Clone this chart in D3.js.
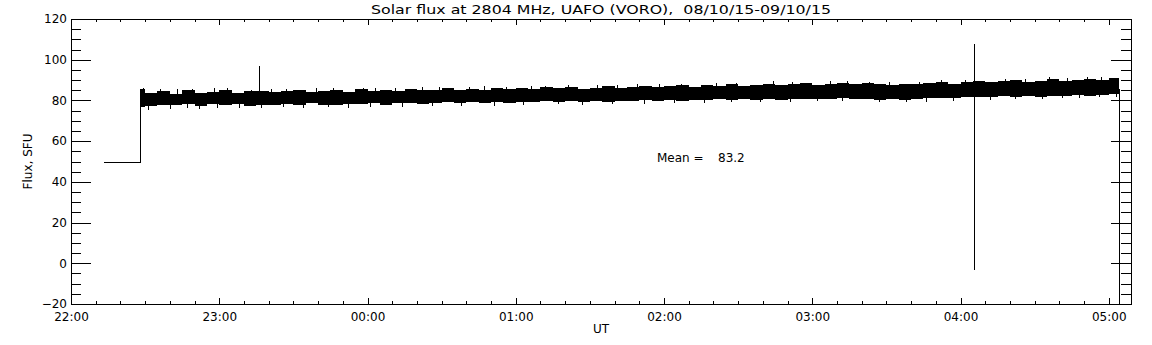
<!DOCTYPE html>
<html>
<head>
<meta charset="utf-8">
<script src="https://cdn.jsdelivr.net/npm/d3@7"></script>
<style>
  body { margin: 0; background: #fff; }
  svg { display: block; }
  text { font-family: "DejaVu Sans", sans-serif; font-size: 12px; fill: #000; white-space: pre; }
</style>
</head>
<body>
<svg id="chart" width="1152" height="345"></svg>
<script>
// ---- data ----
const titleText = "Solar flux at 2804 MHz, UAFO (VORO),  08/10/15-09/10/15";
const meanValue = 83.2;

// dense noise band: solid envelope, sampled every 5 min
const bandTimes = ["22:28","22:30","22:35","22:40","22:45","22:50","22:55","23:00","23:05","23:10","23:15","23:20","23:25","23:30","23:35","23:40","23:45","23:50","23:55",
  "00:00","00:05","00:10","00:15","00:20","00:25","00:30","00:35","00:40","00:45","00:50","00:55",
  "01:00","01:05","01:10","01:15","01:20","01:25","01:30","01:35","01:40","01:45","01:50","01:55",
  "02:00","02:05","02:10","02:15","02:20","02:25","02:30","02:35","02:40","02:45","02:50","02:55",
  "03:00","03:05","03:10","03:15","03:20","03:25","03:30","03:35","03:40","03:45","03:50","03:55",
  "04:00","04:05","04:10","04:15","04:20","04:25","04:30","04:35","04:40","04:45","04:50","04:55","05:00","05:04"];
const bandUpper = [85.5,83.8,84.6,83.4,84.9,83.7,84.2,85.1,83.6,84.4,84.8,83.9,84.6,85.3,84.1,84.7,85.0,84.2,85.4,
  84.6,85.1,84.4,85.6,84.9,85.3,86.0,85.1,85.7,85.2,86.3,85.5,
  86.1,85.4,86.4,85.9,86.6,85.8,86.2,86.9,86.1,86.7,87.3,86.5,
  86.9,87.6,86.8,87.4,87.0,87.9,87.2,87.7,88.3,87.5,87.9,88.4,
  87.6,88.2,88.7,87.9,88.4,88.0,87.6,88.3,88.0,88.6,88.9,88.3,
  89.1,89.6,88.9,89.4,89.9,89.2,89.7,90.3,89.6,90.1,90.6,90.0,90.8,90.4];
const bandLower = [77.0,77.2,78.0,77.6,78.2,77.4,78.1,77.8,78.4,77.5,78.0,77.7,78.3,77.9,78.5,78.0,77.6,78.3,78.1,
  78.6,78.0,78.5,78.9,78.3,78.7,79.1,78.6,79.0,78.5,79.2,78.8,
  79.3,79.0,79.5,79.1,79.6,79.2,79.7,79.4,79.9,79.5,80.0,79.6,
  80.1,79.8,80.3,80.0,80.5,80.1,80.6,80.3,80.8,80.4,80.9,80.5,
  80.9,80.6,81.0,80.7,80.5,80.3,80.6,80.4,80.8,81.0,81.3,81.0,
  81.5,81.8,81.5,82.0,81.7,82.2,81.9,82.4,82.1,82.6,82.3,82.9,83.2,83.0];

// single outlying samples sticking out of the band
const spikeTimes = ["22:29","22:43","22:58","23:21","23:39","23:58","00:22","00:47","01:12","01:33","01:58","02:21","02:44","03:07","03:31","03:52","04:18","04:36","04:51","05:02",
  "22:36","22:49","23:03","23:13","23:27","23:46","00:03","00:11","00:29","00:41","00:56","01:06","01:21","01:41","01:49","02:07","02:29","02:52","03:14","03:23","03:43","04:02","04:26","04:43","04:57",
  "22:31","22:40","22:52","23:08","23:34","23:52","00:14","00:38","01:03","01:27","01:52","02:16","02:39","03:02","03:27","03:46","04:12","04:33","04:48","05:03",
  "22:47","22:59","23:17","23:26","23:44","00:01","00:26","00:51","01:17","01:39","02:04","02:27","02:51","03:12","03:38","03:57","04:22","04:41","04:56"];
const spikeValues = [86.2,85.8,86.0,85.7,85.9,86.3,86.6,87.0,87.3,87.6,88.2,88.6,89.3,89.6,89.0,89.8,90.7,91.3,91.5,91.2,
  85.4,85.6,85.9,85.3,85.8,86.0,85.9,86.2,86.5,86.4,86.8,86.9,87.4,87.5,87.9,88.2,88.5,89.0,89.4,88.9,89.2,90.0,90.6,91.0,91.6,
  75.3,76.0,75.8,76.2,76.5,76.3,76.8,77.2,77.6,78.0,78.4,78.9,79.2,79.6,79.0,79.3,80.4,80.8,81.3,81.6,
  76.1,76.4,76.3,76.8,76.6,77.0,77.3,77.5,78.1,78.3,78.6,79.1,79.4,79.5,79.2,79.8,80.6,81.0,81.5];

// line pieces of the trace outside the band
const stepTimes = ["22:13","22:28","22:28"];
const stepValues = [50, 50, 86];
const burstTimes = ["23:16","23:16","04:05:30","04:05:30","05:04","05:04"];
const burstValues = [81, 97.5, 108, -3, 86, -40];

const yTicks = [-20, 0, 20, 40, 60, 80, 100, 120];

// ---- layout ----
const svg = d3.select("#chart");
const margin = { left: 71, right: 21, top: 19, bottom: 41 };
const W = 1152, H = 345;
const x0 = margin.left, x1 = W - margin.right, y0 = margin.top, y1 = H - margin.bottom;

const day = t => {
  const p = t.split(":").map(Number);
  return new Date(2015, 9, p[0] >= 12 ? 8 : 9, p[0], p[1], p[2] || 0);
};

const x = d3.scaleTime()
  .domain([day("22:00"), day("05:09")])
  .range([x0, x1]);
const y = d3.scaleLinear()
  .domain([-20, 120])
  .range([y1, y0]);

svg.append("clipPath").attr("id", "plotclip")
  .append("rect").attr("x", x0).attr("y", y0).attr("width", x1 - x0).attr("height", y1 - y0);

const data = svg.append("g").attr("clip-path", "url(#plotclip)");

const band = bandTimes.map((t, i) => ({ t: day(t), hi: bandUpper[i], lo: bandLower[i] }));
data.append("path")
  .datum(band)
  .attr("d", d3.area().curve(d3.curveStepAfter).x(d => x(d.t)).y0(d => y(d.lo)).y1(d => y(d.hi)))
  .attr("fill", "#000")
  .attr("shape-rendering", "crispEdges");

data.selectAll("line.spike")
  .data(spikeTimes.map((t, i) => ({ t: day(t), v: spikeValues[i] })))
  .enter().append("line")
  .attr("class", "spike")
  .attr("x1", d => Math.round(x(d.t)) + 0.5).attr("x2", d => Math.round(x(d.t)) + 0.5)
  .attr("y1", y(meanValue)).attr("y2", d => y(d.v))
  .attr("stroke", "#000").attr("stroke-width", 1)
  .attr("shape-rendering", "crispEdges");

const crisp = d3.line().x(d => Math.round(x(d.t)) + 0.5).y(d => Math.round(y(d.v)) + 0.5);
data.append("path")
  .datum(stepTimes.map((t, i) => ({ t: day(t), v: stepValues[i] })))
  .attr("d", crisp)
  .attr("fill", "none").attr("stroke", "#000").attr("stroke-width", 1)
  .attr("shape-rendering", "crispEdges");

for (let i = 0; i < burstTimes.length; i += 2) {
  data.append("path")
    .datum([{ t: day(burstTimes[i]), v: burstValues[i] }, { t: day(burstTimes[i + 1]), v: burstValues[i + 1] }])
    .attr("d", crisp)
    .attr("fill", "none").attr("stroke", "#000").attr("stroke-width", 1)
    .attr("shape-rendering", "crispEdges");
}

// ---- axes ----
const hourTicks = d3.timeHour.every(1).range(day("22:00"), day("05:09"));
const minorX = d3.timeMinute.every(10).range(day("22:00"), day("05:09")).filter(d => d.getMinutes() !== 0);
const minorY = d3.range(-20, 121, 5).filter(v => v % 20 !== 0);

function styleAxis(g) {
  g.select(".domain").remove();
  g.selectAll("line").attr("stroke", "#000").attr("shape-rendering", "crispEdges");
  g.selectAll("text").attr("font-family", "DejaVu Sans, sans-serif").attr("font-size", 12).attr("fill", "#000");
}

svg.append("g").attr("transform", `translate(0,${y1})`)
  .call(d3.axisBottom(x).tickValues(hourTicks).tickFormat(d3.timeFormat("%H:%M")).tickSize(-6).tickPadding(8))
  .call(styleAxis);
svg.append("g").attr("transform", `translate(0,${y1})`)
  .call(d3.axisBottom(x).tickValues(minorX).tickFormat("").tickSize(-3))
  .call(styleAxis);
svg.append("g").attr("transform", `translate(0,${y0})`)
  .call(d3.axisTop(x).tickValues(hourTicks).tickFormat("").tickSize(-6))
  .call(styleAxis);
svg.append("g").attr("transform", `translate(0,${y0})`)
  .call(d3.axisTop(x).tickValues(minorX).tickFormat("").tickSize(-3))
  .call(styleAxis);

svg.append("g").attr("transform", `translate(${x0},0)`)
  .call(d3.axisLeft(y).tickValues(yTicks).tickFormat(d => d < 0 ? "\u2212" + Math.abs(d) : d).tickSize(-20).tickPadding(4))
  .call(styleAxis);
svg.append("g").attr("transform", `translate(${x0},0)`)
  .call(d3.axisLeft(y).tickValues(minorY).tickFormat("").tickSize(-10))
  .call(styleAxis);
svg.append("g").attr("transform", `translate(${x1},0)`)
  .call(d3.axisRight(y).tickValues(yTicks).tickFormat("").tickSize(-20))
  .call(styleAxis);
svg.append("g").attr("transform", `translate(${x1},0)`)
  .call(d3.axisRight(y).tickValues(minorY).tickFormat("").tickSize(-10))
  .call(styleAxis);

svg.append("rect")
  .attr("x", x0 + 0.5).attr("y", y0 + 0.5)
  .attr("width", x1 - x0).attr("height", y1 - y0)
  .attr("fill", "none").attr("stroke", "#000").attr("stroke-width", 1)
  .attr("shape-rendering", "crispEdges");

// ---- labels ----
const cx = (x0 + x1) / 2;
svg.append("text")
  .attr("x", cx).attr("y", 13.5)
  .attr("text-anchor", "middle")
  .attr("textLength", 460).attr("lengthAdjust", "spacingAndGlyphs")
  .text(titleText);

svg.append("text")
  .attr("transform", `translate(28,${(y0 + y1) / 2}) rotate(-90)`)
  .attr("text-anchor", "middle").attr("dy", "0.35em")
  .text("Flux, SFU");

svg.append("text")
  .attr("x", cx).attr("y", 333)
  .attr("text-anchor", "middle")
  .text("UT");

const meanG = svg.append("g");
meanG.append("text").attr("x", 657).attr("y", y(52)).attr("dy", "0.35em").text("Mean =");
meanG.append("text").attr("x", 718).attr("y", y(52)).attr("dy", "0.35em").text(meanValue.toFixed(1));
</script>
</body>
</html>
